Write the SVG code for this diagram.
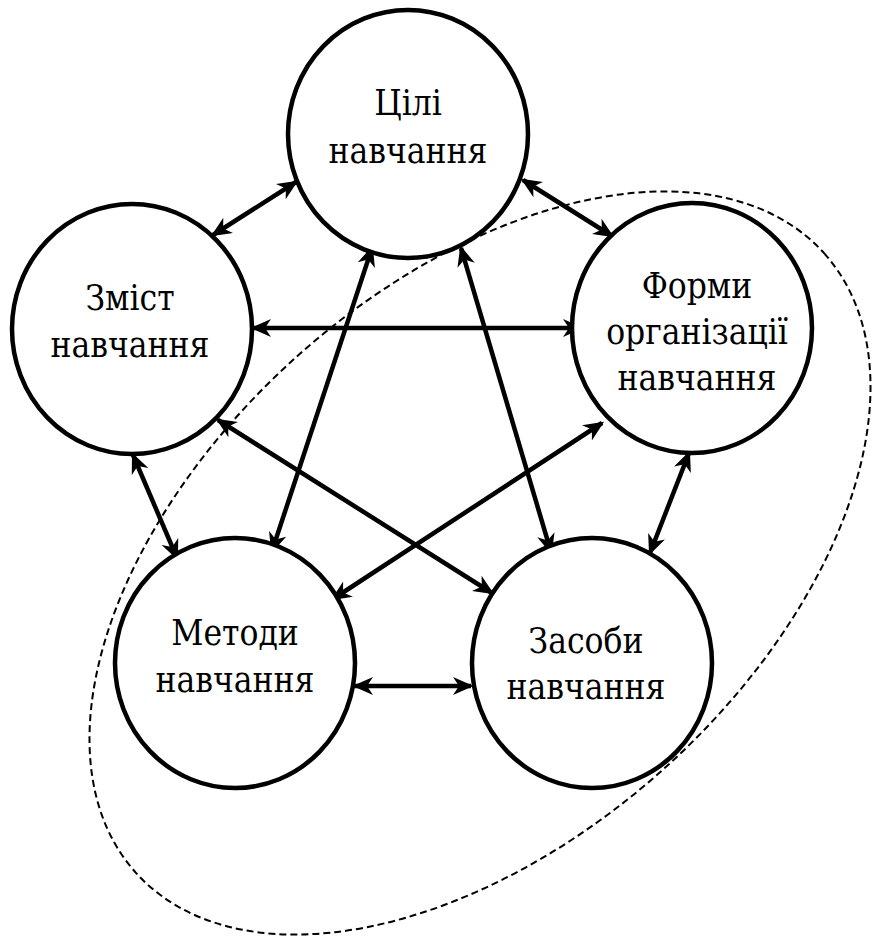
<svg xmlns="http://www.w3.org/2000/svg" width="873" height="938" viewBox="0 0 873 938">
<style>
.node{fill:#fff;stroke:#000;stroke-width:4.5}
text{font-family:'DejaVu Serif Condensed','DejaVu Serif',serif;font-stretch:condensed;font-size:35px;fill:#000;text-anchor:middle}
.conn{stroke:#000;stroke-width:4.5;fill:none;marker-start:url(#ah);marker-end:url(#ah)}
.dash{fill:none;stroke:#000;stroke-width:2;stroke-dasharray:7,4}
</style>
<defs>
<marker id="ah" markerUnits="userSpaceOnUse" markerWidth="22" markerHeight="20" viewBox="0 0 22 20" refX="18" refY="10" orient="auto-start-reverse">
<path d="M0,1 L20.5,10 L0,19 L6,10 Z" fill="#000"/>
</marker>
</defs>
<rect width="873" height="938" fill="#fff"/>
<ellipse class="dash" cx="480" cy="563" rx="463" ry="276" transform="rotate(-42 480 563)"/>
<g id="connectors">
<line class="conn" x1="296" y1="182" x2="213" y2="235"/>
<line class="conn" x1="523" y1="180" x2="612" y2="236"/>
<line class="conn" x1="253" y1="328" x2="581" y2="328"/>
<line class="conn" x1="372" y1="248" x2="272" y2="551"/>
<line class="conn" x1="461" y1="248" x2="551" y2="552"/>
<line class="conn" x1="218" y1="420" x2="492" y2="593"/>
<line class="conn" x1="602" y1="423" x2="333" y2="599"/>
<line class="conn" x1="133" y1="455" x2="177" y2="558"/>
<line class="conn" x1="689" y1="453" x2="650" y2="553"/>
<line class="conn" x1="355" y1="686" x2="471" y2="686"/>
</g>
<g id="tsili">
<ellipse class="node" cx="408" cy="134" rx="120" ry="124"/>
<text x="408" y="115">Цілі</text>
<text x="408" y="163">навчання</text>
</g>
<g id="zmist">
<ellipse class="node" cx="132" cy="329" rx="120" ry="125"/>
<text x="130" y="310">Зміст</text>
<text x="130" y="357">навчання</text>
</g>
<g id="formy">
<ellipse class="node" cx="692" cy="328" rx="120" ry="125"/>
<text x="697" y="298">Форми</text>
<text x="697" y="344">організації</text>
<text x="697" y="390">навчання</text>
</g>
<g id="metody">
<ellipse class="node" cx="235" cy="663" rx="120" ry="125"/>
<text x="235" y="645">Методи</text>
<text x="235" y="692">навчання</text>
</g>
<g id="zasoby">
<ellipse class="node" cx="592" cy="663" rx="120" ry="125"/>
<text x="586" y="653">Засоби</text>
<text x="586" y="699">навчання</text>
</g>
</svg>
